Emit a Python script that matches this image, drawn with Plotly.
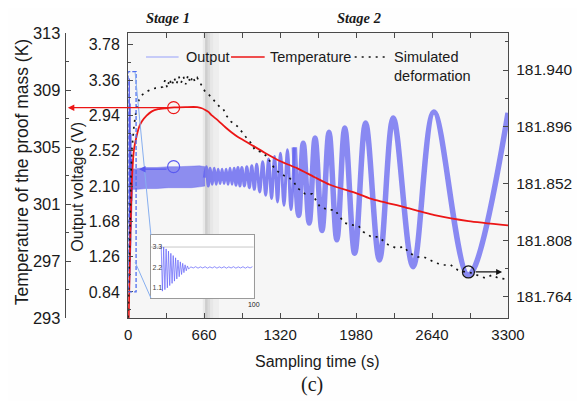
import plotly.graph_objects as go

# ---------------- data ----------------
# Output voltage: initial transient (s, V) -- also shown in the inset
transient_t = [10.0, 11.2, 12.4, 13.6, 14.8, 16.0, 17.1, 18.3, 19.4, 20.6, 21.7, 22.9,
               24.0, 25.2, 26.3, 27.5, 28.6, 29.8, 30.9, 32.1, 33.2, 34.4, 35.5, 36.7]
transient_v = [3.38, 0.92, 3.30, 1.00, 3.20, 1.10, 3.08, 1.22, 2.96, 1.34, 2.84, 1.46,
               2.72, 1.58, 2.60, 1.70, 2.50, 1.82, 2.42, 1.92, 2.34, 2.02, 2.28, 2.12]
# small residual wiggle seen in the inset
wiggle_t = [38.9, 41.2, 43.5, 45.8, 48.1, 50.4, 52.7, 55.0, 57.3, 59.6, 61.9, 64.2, 66.5, 68.8,
            71.1, 73.4, 75.7, 78.0, 80.3, 82.6, 84.9, 87.2, 89.5, 91.8, 94.1, 96.4, 98.7]
wiggle_v = [2.23, 2.17, 2.24, 2.16, 2.23, 2.17, 2.24, 2.16, 2.23, 2.17, 2.24, 2.16, 2.23, 2.17,
            2.24, 2.16, 2.23, 2.17, 2.24, 2.16, 2.23, 2.17, 2.24, 2.16, 2.23, 2.17, 2.24]
# Stage 1 dense oscillation band (envelope)
band_t = [36, 80, 150, 250, 350, 450, 550, 620, 668]
band_hi = [2.30, 2.31, 2.32, 2.32, 2.33, 2.33, 2.34, 2.34, 2.33]
band_lo = [2.06, 2.06, 2.07, 2.07, 2.08, 2.08, 2.08, 2.09, 2.10]
# Stage 2 oscillation extremes (s, V)
cycle_t = [662, 679, 696, 713, 730, 748, 765, 782, 799, 816, 834, 851, 868, 885, 902, 920,
           937, 954, 971, 988, 1010, 1031, 1053, 1074, 1096, 1117, 1143, 1169, 1195, 1220,
           1246, 1272, 1298, 1323, 1354, 1384, 1414, 1444, 1482, 1521, 1573, 1624, 1684,
           1745, 1813, 1882, 1968, 2063, 2183, 2303, 2475, 2656, 2956, 3300]
cycle_v = [2.20, 2.33, 2.10, 2.31, 2.12, 2.31, 2.12, 2.30, 2.13, 2.30, 2.13, 2.30, 2.12, 2.31,
           2.12, 2.31, 2.11, 2.32, 2.10, 2.32, 2.10, 2.33, 2.08, 2.34, 2.06, 2.36, 2.03, 2.39,
           1.99, 2.42, 1.95, 2.45, 1.91, 2.49, 1.87, 2.53, 1.82, 2.56, 1.75, 2.61, 1.66, 2.67,
           1.57, 2.74, 1.46, 2.79, 1.30, 2.85, 1.22, 2.91, 1.14, 2.98, 1.04, 2.97]
# Temperature of the proof mass (s, K)
temp_t = [5, 12, 20, 28, 36, 50, 69, 95, 120, 160, 206, 260, 327, 400, 500, 600, 640, 670,
          700, 722, 782, 842, 894, 954, 1040, 1186, 1323, 1470, 1616, 1753, 1985, 2097,
          2389, 2673, 2956, 3300]
temp_k = [293.0, 296.0, 299.0, 301.5, 303.2, 304.8, 305.6, 306.4, 306.8, 307.2, 307.5,
          307.65, 307.72, 307.78, 307.8, 307.8, 307.72, 307.6, 307.45, 307.25, 306.85,
          306.4, 306.05, 305.7, 305.3, 304.6, 304.0, 303.5, 302.9, 302.35, 301.75, 301.4,
          300.8, 300.2, 299.8, 299.5]
# Simulated deformation (s, right axis)
deform_t = [0, 8, 17, 26, 34, 52, 77, 95, 125, 155, 200, 240, 270, 300, 320, 340, 360, 380,
            400, 420, 440, 460, 480, 500, 520, 540, 560, 580, 600, 625, 650, 670, 700, 730,
            765, 799, 825, 851, 894, 954, 1023, 1066, 1100, 1152, 1212, 1238, 1281, 1341,
            1401, 1444, 1470, 1538, 1598, 1667, 1745, 1796, 1839, 1882, 1942, 2002, 2045,
            2114, 2174, 2260, 2329, 2398, 2441, 2518, 2570, 2673, 2741, 2802, 2862, 2930,
            2956, 3034, 3102, 3163, 3215, 3270]
deform_d = [181.748, 181.793, 181.839, 181.863, 181.880, 181.8975, 181.913, 181.917, 181.921,
            181.923, 181.925, 181.926, 181.926, 181.927, 181.932, 181.926, 181.933, 181.928,
            181.934, 181.929, 181.935, 181.930, 181.935, 181.929, 181.936, 181.930, 181.935,
            181.931, 181.934, 181.930, 181.927, 181.923, 181.921, 181.918, 181.914, 181.911,
            181.910, 181.905, 181.900, 181.896, 181.888, 181.8835, 181.878, 181.8765,
            181.8726, 181.868, 181.8626, 181.8587, 181.8563, 181.8525, 181.8486, 181.8439,
            181.8439, 181.8338, 181.8315, 181.8315, 181.8261, 181.8214, 181.8199, 181.8191,
            181.8144, 181.8106, 181.8106, 181.8044, 181.8020, 181.8028, 181.7981, 181.7950,
            181.7950, 181.7904, 181.7888, 181.7888, 181.7850, 181.7834, 181.7834, 181.7811,
            181.7787, 181.7811, 181.7787, 181.778]

# marked points (circles) and zoom box
red_mark = (395, 307.76)       # (s, K)
blue_mark = (395, 2.33)        # (s, V)
black_mark = (2956, 181.7834)  # (s, deformation)
zoom_box = (0, 69, 0.84, 3.46)  # t0, t1, v0, v1
split_idx = 37                  # where the noisy, thicker part of the output begins

# ---------------- layout helpers ----------------
# the page body has an 8 px margin, so the figure is drawn 8 px in from the window corner
OFF = 8
W, H = 585 - OFF, 401 - OFF
ML, MR, MT, MB = 50 - OFF, 72, 33 - OFF, 83
PW = W - ML - MR
PH = H - MT - MB
def PX(x):  # window pixel -> paper fraction
    return (x - OFF - ML) / PW
def PY(y):
    return (H - MB - (y - OFF)) / PH

AX = '#4a4a4a'
SANS = 'Liberation Sans, Arial, sans-serif'
SERIF = 'Liberation Serif, Times New Roman, serif'

fig = go.Figure()

# stage 1 dense band
fig.add_trace(go.Scatter(x=band_t, y=band_lo, mode='lines', line=dict(color='rgba(100,100,235,0.7)', width=0.6),
                         hoverinfo='skip'))
fig.add_trace(go.Scatter(x=band_t, y=band_hi, mode='lines', fill='tonexty', fillcolor='rgba(100,100,235,0.72)',
                         line=dict(color='rgba(100,100,235,0.7)', width=0.6), hoverinfo='skip'))
fig.add_trace(go.Scatter(x=transient_t, y=transient_v, mode='lines', line=dict(color='rgba(70,70,230,0.9)', width=1.2)))
fig.add_trace(go.Scatter(x=cycle_t[:split_idx + 1], y=cycle_v[:split_idx + 1], mode='lines',
                         line=dict(color='rgba(100,100,240,0.8)', width=3.0, shape='spline', smoothing=1.0)))
fig.add_trace(go.Scatter(x=cycle_t[split_idx:], y=cycle_v[split_idx:], mode='lines',
                         line=dict(color='rgba(100,100,240,0.75)', width=5.5, shape='spline', smoothing=1.0)))
# temperature
fig.add_trace(go.Scatter(x=temp_t, y=temp_k, yaxis='y2', mode='lines',
                         line=dict(color='rgb(236,22,22)', width=1.8, shape='spline', smoothing=0.6)))
# deformation
fig.add_trace(go.Scatter(x=deform_t, y=deform_d, yaxis='y3', mode='lines',
                         line=dict(color='rgb(20,20,20)', width=1.7, dash='2px,5px')))
# inset
fig.add_trace(go.Scatter(x=transient_t + wiggle_t, y=transient_v + wiggle_v, xaxis='x2', yaxis='y4', mode='lines',
                         line=dict(color='rgba(100,100,250,0.9)', width=0.8)))

shapes = []
# plot background and gray band near 660 s
shapes.append(dict(type='rect', xref='x', yref='paper', x0=0, x1=3300, y0=0, y1=1, layer='below',
                   fillcolor='#f6f6f6', line=dict(width=0)))
for a, b, op in [(648, 668, 0.05), (668, 690, 0.16), (690, 712, 0.11), (712, 740, 0.06), (740, 790, 0.03)]:
    shapes.append(dict(type='rect', xref='x', yref='paper', x0=a, x1=b, y0=0, y1=1, layer='below',
                       fillcolor='black', opacity=op, line=dict(width=0)))
# inset grid line at 3.3
shapes.append(dict(type='line', xref='x2', yref='y4', x0=0, x1=100, y0=3.3, y1=3.3,
                   line=dict(color='#c8c8c8', width=1), layer='below'))
# zoom box and connectors
shapes.append(dict(type='rect', xref='x', yref='y', x0=zoom_box[0], x1=zoom_box[1], y0=zoom_box[2], y1=zoom_box[3],
                   line=dict(color='rgb(80,110,240)', width=1.3, dash='4px,2px'), layer='above'))
shapes.append(dict(type='line', xref='paper', yref='paper', x0=PX(136), y0=PY(72), x1=PX(152), y1=PY(235),
                   line=dict(color='rgb(135,175,240)', width=1), layer='above'))
shapes.append(dict(type='line', xref='paper', yref='paper', x0=PX(136), y0=PY(262), x1=PX(152), y1=PY(298),
                   line=dict(color='rgb(135,175,240)', width=1), layer='above'))
# circles
for (cx, cy), yr, col in [(red_mark, 'y2', 'rgb(236,22,22)'), (blue_mark, 'y', 'rgb(90,90,240)'),
                          (black_mark, 'y3', 'rgb(20,20,20)')]:
    shapes.append(dict(type='circle', xref='x', yref=yr, xsizemode='pixel', ysizemode='pixel',
                       xanchor=cx, yanchor=cy, x0=-6, x1=6, y0=-6, y1=6, line=dict(color=col, width=1.2),
                       layer='above'))
# legend samples
shapes.append(dict(type='line', xref='paper', yref='paper', x0=PX(147), x1=PX(180), y0=PY(57), y1=PY(57),
                   line=dict(color='rgb(150,160,250)', width=1.2)))
shapes.append(dict(type='line', xref='paper', yref='paper', x0=PX(233), x1=PX(267), y0=PY(57), y1=PY(57),
                   line=dict(color='rgb(236,22,22)', width=1.6)))
shapes.append(dict(type='line', xref='paper', yref='paper', x0=PX(358), x1=PX(393), y0=PY(57), y1=PY(57),
                   line=dict(color='rgb(20,20,20)', width=1.7, dash='2px,5px')))

ann = []
def text(x, y, s, size, family=SANS, angle=0, xanchor='center', **kw):
    ann.append(dict(xref='paper', yref='paper', x=PX(x), y=PY(y), text=s, showarrow=False,
                    textangle=angle, xanchor=xanchor, yanchor='middle',
                    font=dict(size=size, family=family, color='#1a1a1a', **kw), align='left'))

text(22, 172, 'Temperature of the proof mass (K)', 17.5, angle=-90)
text(77, 187, 'Output voltage (V)', 16, angle=-90)
text(320, 361, 'Sampling time (s)', 16)
text(315, 384, '(c)', 20, family=SERIF)
text(169, 18, 'Stage 1', 14.5, family=SERIF, weight='bold', style='italic')
text(362, 18, 'Stage 2', 14.5, family=SERIF, weight='bold', style='italic')
text(185, 57, 'Output', 14.5, xanchor='left')
text(270, 57, 'Temperature', 14.5, xanchor='left')
text(396, 66.5, 'Simulated<br>deformation', 14.5, xanchor='left')

# arrows
ann.append(dict(xref='paper', yref='y2', x=PX(68), y=red_mark[1], ax=101, ay=0, axref='pixel', ayref='pixel',
                text='', showarrow=True, arrowhead=2, arrowsize=1, arrowwidth=1.3, arrowcolor='rgb(236,22,22)'))
ann.append(dict(xref='x', yref='y', x=95, y=2.30, ax=29, ay=0, text='', showarrow=True, arrowhead=2,
                arrowsize=1, arrowwidth=1.3, arrowcolor='rgb(90,90,240)'))
ann.append(dict(xref='x', yref='y3', x=3249, y=black_mark[1], ax=-28, ay=0, text='', showarrow=True,
                arrowhead=2, arrowsize=1, arrowwidth=1.2, arrowcolor='rgb(20,20,20)'))

common = dict(showgrid=False, zeroline=False, showline=True, linecolor=AX, linewidth=1.2,
              ticks='inside', ticklen=5, tickwidth=1.1, tickcolor=AX)

fig.update_layout(
    width=W, height=H, autosize=False,
    margin=dict(l=ML, r=MR, t=MT, b=MB, pad=0),
    paper_bgcolor='#fefefe', plot_bgcolor='#ffffff',
    showlegend=False,
    font=dict(family=SANS, color='#1a1a1a'),
    shapes=shapes, annotations=ann,
    xaxis=dict(domain=[PX(129), 1], range=[0, 3300], tick0=0, dtick=660, mirror='allticks',
               tickfont=dict(size=15), ticklabelstandoff=3,
               minor=dict(tick0=0, dtick=330, ticks='inside', ticklen=3, tickcolor=AX), **common),
    yaxis=dict(range=[0.53, 3.92], tick0=0.84, dtick=0.42, tickformat='.2f',
               tickfont=dict(size=16), ticklabelstandoff=4,
               minor=dict(tick0=0.84, dtick=0.21, ticks='inside', ticklen=3, tickcolor=AX), **common),
    yaxis2=dict(overlaying='y', anchor='free', position=PX(65), side='left', range=[293, 313],
                tick0=293, dtick=4, tickfont=dict(size=16.5), ticklabelstandoff=1,
                minor=dict(tick0=293, dtick=2, ticks='inside', ticklen=3, tickcolor=AX), **common),
    yaxis3=dict(overlaying='y', anchor='x', side='right', range=[181.7477, 181.9687],
                tick0=181.764, dtick=0.044, tickformat='.3f', tickfont=dict(size=15.5), ticklabelstandoff=4,
                minor=dict(tick0=181.764, dtick=0.022, ticks='inside', ticklen=3, tickcolor=AX), **common),
    xaxis2=dict(domain=[PX(152), PX(256)], anchor='y4', range=[0, 100], tickvals=[0, 100], ticks='',
                showline=True, mirror=True, linecolor='#9a9a9a', linewidth=1, showgrid=False, zeroline=False,
                tickfont=dict(size=7)),
    yaxis4=dict(domain=[PY(298), PY(235)], anchor='x2', range=[0.55, 3.95], tickvals=[1.1, 2.2, 3.3],
                ticklabelposition='inside', ticks='', showline=True, mirror=True, linecolor='#9a9a9a',
                linewidth=1, showgrid=False, zeroline=False, tickfont=dict(size=7)),
)

fig.write_html('out.html')
